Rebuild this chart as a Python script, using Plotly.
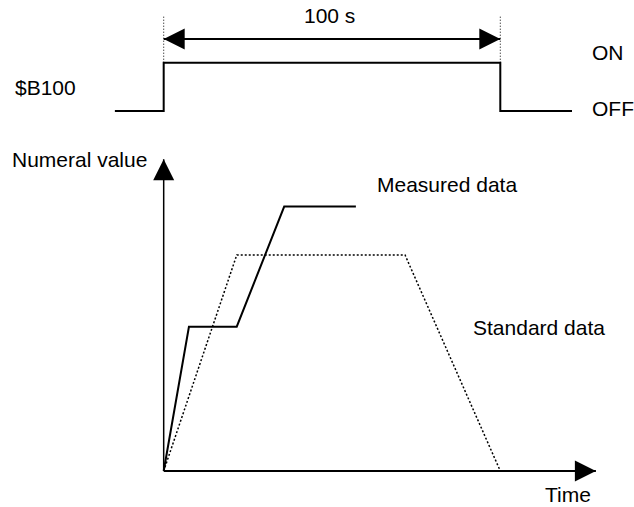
import plotly.graph_objects as go

# ---------------- data ----------------
# Timing signal $B100 (time in s, state 0=OFF, 1=ON)
signal_time = [-14.5, 0, 0, 100, 100, 121.3]
signal_state = [0, 0, 1, 1, 0, 0]
pulse_start = 0
pulse_end = 100
pulse_label = "100 s"

# Lower chart (time in s, numeral value in arbitrary units)
measured_time = [0, 7.5, 21.7, 35.8, 57.1]
measured_value = [0, 66.8, 66.8, 122.4, 122.4]
standard_time = [0, 21.7, 71.7, 100]
standard_value = [0, 100, 100, 0]

# extents of drawn axes (in data units)
time_axis_end = 128.4
value_axis_end = 144.3
dim_level = 1.49      # level of the 100 s dimension arrow (signal units)
guide_top = 1.99      # top of dotted guide lines (signal units)

BLACK = "#000000"
FONT = dict(family="Liberation Sans, Arial, Helvetica, sans-serif", size=21, color=BLACK)

fig = go.Figure()

# $B100 signal
fig.add_trace(go.Scatter(x=signal_time, y=signal_state, yaxis="y2", mode="lines",
                         line=dict(color=BLACK, width=2)))
# dotted guide lines at pulse edges
for t in (pulse_start, pulse_end):
    fig.add_trace(go.Scatter(x=[t, t], y=[1, guide_top], yaxis="y2", mode="lines",
                             line=dict(color=BLACK, width=1, dash="1px,2px")))
# dimension arrow
fig.add_trace(go.Scatter(x=[pulse_start, pulse_end], y=[dim_level, dim_level], yaxis="y2",
                         mode="lines", line=dict(color=BLACK, width=2)))
fig.add_trace(go.Scatter(x=[pulse_start, pulse_end], y=[dim_level, dim_level], yaxis="y2",
                         mode="markers",
                         marker=dict(symbol=["arrow-left", "arrow-right"], size=21,
                                     color=BLACK, line=dict(width=0))))

# lower chart axes
fig.add_trace(go.Scatter(x=[0, time_axis_end], y=[0, 0], mode="lines",
                         line=dict(color=BLACK, width=2)))
fig.add_trace(go.Scatter(x=[0, 0], y=[0, value_axis_end], mode="lines",
                         line=dict(color=BLACK, width=1.5)))
fig.add_trace(go.Scatter(x=[time_axis_end, 0], y=[0, value_axis_end], mode="markers",
                         marker=dict(symbol=["arrow-right", "arrow-up"], size=21,
                                     color=BLACK, line=dict(width=0))))

# standard data (dotted)
fig.add_trace(go.Scatter(x=standard_time, y=standard_value, mode="lines",
                         line=dict(color=BLACK, width=1.5, dash="2px,2px")))
# measured data (solid)
fig.add_trace(go.Scatter(x=measured_time, y=measured_value, mode="lines",
                         line=dict(color=BLACK, width=2)))

W, H = 634, 507


def ann(text, px, py, xanchor="left"):
    fig.add_annotation(text=text, x=px / W, y=1 - py / H, xref="paper", yref="paper",
                       xanchor=xanchor, yanchor="middle", showarrow=False, font=FONT,
                       borderpad=0, borderwidth=0)


ann(pulse_label, 329, 15.3, "center")
ann("ON", 592, 52.8)
ann("OFF", 592, 108.8)
ann("$B100", 15, 87.5)
ann("Numeral value", 12, 159.2)
ann("Measured data", 377, 184.9)
ann("Standard data", 473, 327.5)
ann("Time", 545, 494.2)

# axis scales: map data to the picture
fig.update_layout(
    width=W, height=H, autosize=False,
    margin=dict(l=0, r=0, t=0, b=0, pad=0),
    paper_bgcolor="white", plot_bgcolor="white",
    showlegend=False, hovermode=False,
    xaxis=dict(range=[-48.63, 139.72], visible=False, fixedrange=True),
    yaxis=dict(range=[-16.67, 218.06], visible=False, fixedrange=True),
    yaxis2=dict(range=[-8.199, 2.298], visible=False, overlaying="y", fixedrange=True),
)

fig.write_html("out.html", config={"displayModeBar": False, "staticPlot": True},
               post_script="document.body.style.margin='0';")
